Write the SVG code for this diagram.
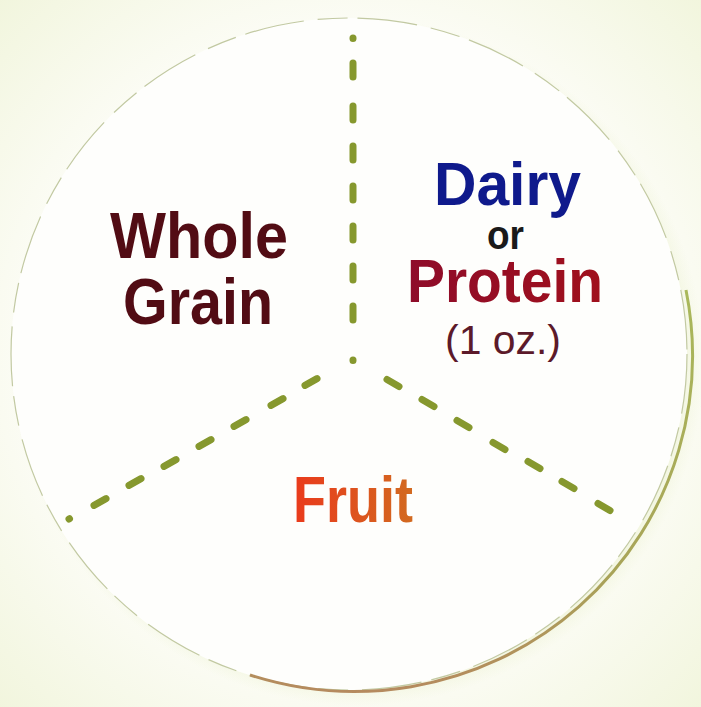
<svg xmlns="http://www.w3.org/2000/svg" width="701" height="707" viewBox="0 0 701 707">
<defs>
<radialGradient id="bg" cx="0.5" cy="0.5" r="0.72">
<stop offset="0.6" stop-color="#fdfdf8"/>
<stop offset="1" stop-color="#f1f5dc"/>
</radialGradient>
<radialGradient id="shadow" cx="0.5" cy="0.5" r="0.5">
<stop offset="0.9" stop-color="#e8efc8" stop-opacity="0.9"/>
<stop offset="1" stop-color="#eef3d6" stop-opacity="0"/>
</radialGradient>
<linearGradient id="rim" x1="0" y1="0" x2="0" y2="1">
<stop offset="0" stop-color="#a9b85a"/>
<stop offset="0.7" stop-color="#a8a458"/>
<stop offset="1" stop-color="#b58a5e"/>
</linearGradient>
<linearGradient id="fruitGrad" x1="0" y1="0" x2="1" y2="0">
<stop offset="0" stop-color="#ea3a1c"/>
<stop offset="1" stop-color="#d26a20"/>
</linearGradient>
<linearGradient id="protGrad" x1="0" y1="0" x2="1" y2="0">
<stop offset="0" stop-color="#8e0c2a"/>
<stop offset="1" stop-color="#a0101c"/>
</linearGradient>
</defs>
<style>
.lbl{font-family:"Liberation Sans",Arial,sans-serif;font-weight:bold;text-anchor:start}
.dash{stroke:#86982e;stroke-width:7;stroke-linecap:round;fill:none}
</style>
<rect width="701" height="707" fill="url(#bg)"/>
<g id="plate">
<ellipse cx="358" cy="362" rx="346" ry="344" fill="url(#shadow)"/>
<ellipse cx="349" cy="354" rx="338" ry="336" fill="#fefefc"/>
<ellipse cx="349" cy="354" rx="338" ry="336" fill="none" stroke="#c2c9a2" stroke-width="1.2" stroke-dasharray="60 14 30 10"/>
<path d="M 686 290 A 338 336 0 0 1 250 675" fill="none" stroke="url(#rim)" stroke-width="3"/>
</g>
<g id="connectors">
<path class="dash" d="M353 38 L353 38.5 M353 63 L353 77 M353 106 L353 120 M353 146 L353 160 M353 186 L353 200 M353 226 L353 240 M353 266 L353 280 M353 306 L353 320 M353 360 L353 360.5"/>
<path class="dash" d="M305 385.4 L317 378.6 M271 405.4 L283 398.6 M234 426.4 L246 419.6 M199 446.4 L211 439.6 M164 466.4 L176 459.6 M129 485.4 L141 478.6 M94 505.4 L106 498.6 M69 519 L69.5 518.7"/>
<path class="dash" d="M387 379.5 L399 386.5 M422 399.5 L434 406.5 M457 420.5 L469 427.5 M493 442.5 L505 449.5 M528 461.5 L540 468.5 M562 481.5 L574 488.5 M598 503.5 L610 510.5"/>
</g>
<g id="whole-grain">
<text class="lbl" x="110" y="258" font-size="64" fill="#520c14" textLength="178" lengthAdjust="spacingAndGlyphs">Whole</text>
<text class="lbl" x="123" y="324" font-size="64" fill="#520c14" textLength="150" lengthAdjust="spacingAndGlyphs">Grain</text>
</g>
<g id="dairy-protein">
<text class="lbl" x="434" y="205" font-size="62" fill="#0f1a8c" textLength="147" lengthAdjust="spacingAndGlyphs">Dairy</text>
<text class="lbl" x="487" y="249" font-size="40" fill="#1a1a1a" textLength="37" lengthAdjust="spacingAndGlyphs">or</text>
<text class="lbl" x="407" y="302" font-size="62" fill="url(#protGrad)" textLength="196" lengthAdjust="spacingAndGlyphs">Protein</text>
<text x="445" y="354" font-family="Liberation Sans,Arial,sans-serif" font-size="40" fill="#5c1a2a" textLength="116" lengthAdjust="spacingAndGlyphs">(1 oz.)</text>
</g>
<g id="fruit">
<text class="lbl" x="293" y="522" font-size="64" fill="url(#fruitGrad)" textLength="120" lengthAdjust="spacingAndGlyphs">Fruit</text>
</g>
</svg>
